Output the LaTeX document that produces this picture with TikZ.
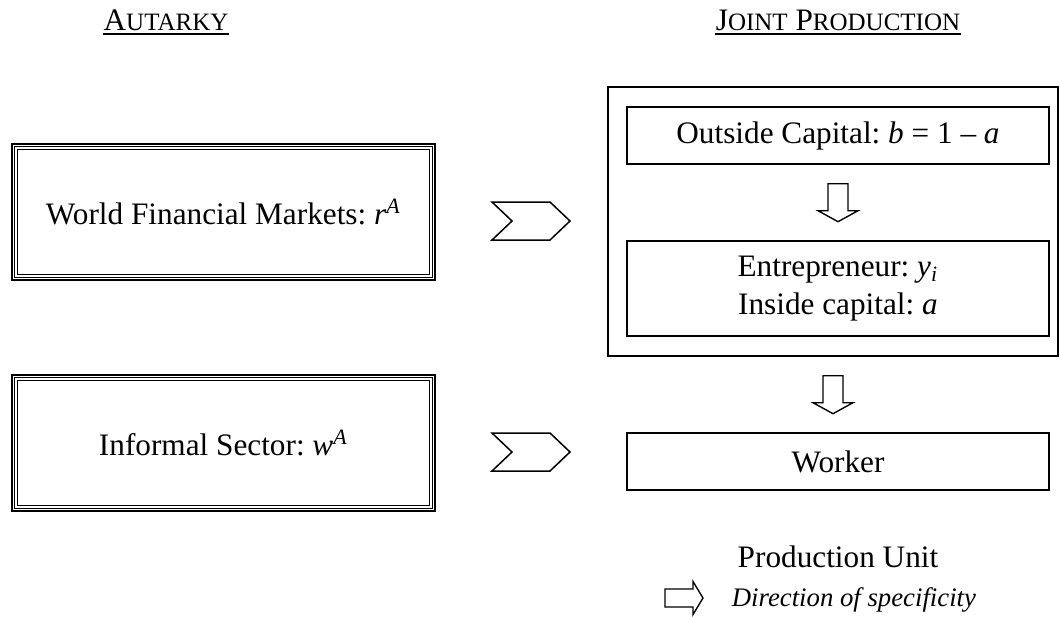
\documentclass[tikz,border=0pt]{standalone}
\usepackage{fontspec}
\setmainfont{Liberation Serif}
\usetikzlibrary{calc,fit}

\newcommand{\fakesc}[2]{#1{\fontsize{10}{12}\selectfont #2}}

\begin{document}
\frenchspacing
\begin{tikzpicture}[x=0.4pt,y=-0.4pt,
    every node/.style={font=\fontsize{12.5}{15}\selectfont},
    box/.style={draw,line width=0.55pt,inner sep=0pt},
    dbox/.style={draw,line width=0.9pt,inner sep=0pt},
    thinline/.style={line width=0.45pt},
    chev/.style={line width=0.6pt,line join=miter},
    blk/.style={line width=0.55pt,line join=miter},
    heading/.style={inner sep=0pt,anchor=base}]
    \useasboundingbox (0,0) rectangle (1060,616);
                % headings
                \node[heading] (aut) at (166,30) {\fakesc{A}{UTARKY}};
                \node[heading] (joint) at (838,30) {\fakesc{J}{OINT} \fakesc{P}{RODUCTION}};
                \foreach \h in {aut,joint}
                    \draw[line width=1pt] ($(\h.base west)+(0,4)$) -- ($(\h.base east)+(0,4)$);
                % autarky side
                \node[dbox,fit={(12,144) (435,280)},label=center:{World Financial Markets: \textit{r}\textsuperscript{\textit{A}}}] (wfm) {};
                \node[dbox,fit={(12,375) (435,511)},label=center:{Informal Sector: \textit{w}\textsuperscript{\textit{A}}}] (inf) {};
                \foreach \b in {wfm,inf} {
                    \draw[thinline] ($(\b.north west)+(3.5,3.5)$) rectangle ($(\b.south east)+(-3.5,-3.5)$);
                    \draw[thinline] ($(\b.north west)+(6.5,6.5)$) rectangle ($(\b.south east)+(-6.5,-6.5)$);
                }
                % joint production side
                \node[box,fit={(608,87) (1058,356)}] (jp) {};
                \node[box,fit={(627,107) (1049,164)},label=center:{Outside Capital: \textit{b} = 1 – \textit{a}}] (cap) {};
                \node[box,fit={(627,241) (1049,336)},label={[align=center]center:Entrepreneur: \textit{y}\textsubscript{\textit{i}}\\Inside capital: \textit{a}}] (ent) {};
                \node[box,fit={(627,433) (1049,490)},label=center:Worker] (wrk) {};
                \node (pu) at (838,557) {Production Unit};
                \node[anchor=west,font=\fontsize{10.7}{13}\selectfont\itshape] (leg) at (723,600) {Direction of specificity};
                % chevrons
                \coordinate (chv1) at (531,221);
                \coordinate (chv2) at (531,452);
                \foreach \c in {chv1,chv2}
                    \draw[chev] (\c) ++(-39,-19) -- ++(58,0) -- ++(20,19) -- ++(-20,19) -- ++(-58,0) -- ++(20,-19) -- cycle;
                % block arrows
                \coordinate (arr1) at ($(cap.south)+(0,19)$);
                \coordinate (arr2) at ($(jp.south)+(0,19)$);
                \foreach \a in {arr1,arr2}
                    \draw[blk] (\a) ++(-10,0) -- ++(20,0) -- ++(0,27) -- ++(10,0) -- ++(-20,11) -- ++(-20,-11) -- ++(10,0) -- cycle;
                \coordinate (legarr) at ($(leg.west)+(-58,-2)$);
                \draw[blk] (legarr) ++(0,-9) -- ++(28,0) -- ++(0,-7.5) -- ++(10,16.5) -- ++(-10,16.5) -- ++(0,-7.5) -- ++(-28,0) -- cycle;
            \end{tikzpicture}
\end{document}
